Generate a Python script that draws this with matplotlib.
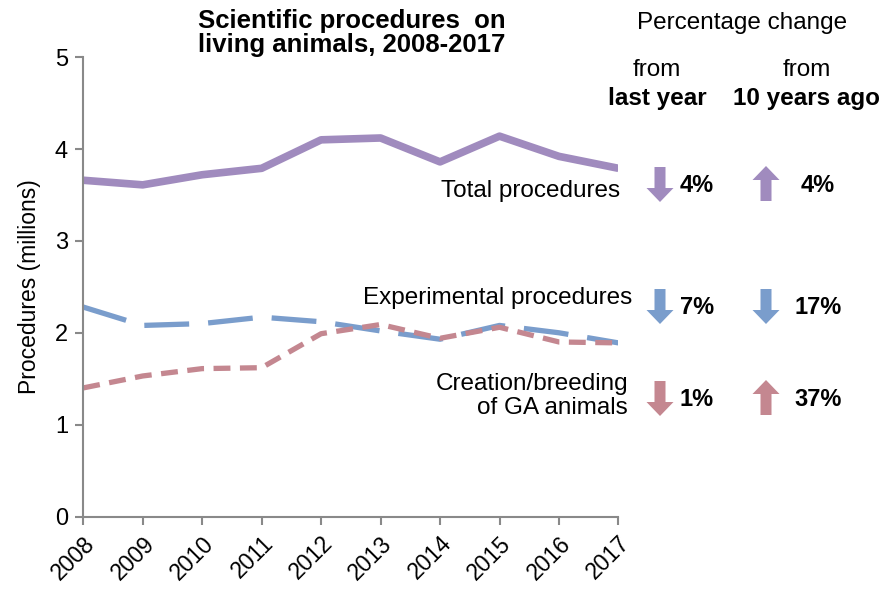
import numpy as np
import matplotlib.pyplot as plt
from matplotlib.patches import FancyArrow

plt.rcParams['font.family'] = ['Liberation Sans', 'DejaVu Sans']

years = [2008, 2009, 2010, 2011, 2012, 2013, 2014, 2015, 2016, 2017]
total = [3.66, 3.61, 3.72, 3.79, 4.10, 4.12, 3.86, 4.14, 3.92, 3.79]
experimental = [2.28, 2.08, 2.10, 2.17, 2.12, 2.02, 1.93, 2.08, 2.00, 1.89]
ga_breeding = [1.40, 1.53, 1.61, 1.62, 1.99, 2.09, 1.94, 2.06, 1.90, 1.89]

series_names = ['Total procedures', 'Experimental procedures', 'Creation/breeding\nof GA animals']
change_last_year = [-4, -7, -1]
change_10_years = [4, -17, 37]

purple = '#A08BBE'
blue = '#7A9DCC'
pink = '#C48790'
grey = '#898989'

fig = plt.figure(figsize=(8.95, 5.89), dpi=100)
ax = fig.add_axes([0.093, 0.123, 0.598, 0.780])

ax.plot(years, total, color=purple, lw=5.5, solid_capstyle='butt')
ax.plot(years, experimental, color=blue, lw=3.8, dashes=(8.5, 3.6))
ax.plot(years, ga_breeding, color=pink, lw=3.8, dashes=(3.2, 1.8))

ax.set_xlim(2008, 2017)
ax.set_ylim(0, 5)
ax.set_xticks(years)
ax.set_xticklabels([str(y) for y in years], rotation=45, ha='right',
                   rotation_mode='anchor', fontsize=16.5)
ax.set_yticks(range(6))
ax.tick_params(axis='y', labelsize=17, length=6, width=1.5, color=grey, pad=5)
ax.tick_params(axis='x', length=6, width=1.5, color=grey, pad=5)
for s in ['top', 'right']:
    ax.spines[s].set_visible(False)
for s in ['left', 'bottom']:
    ax.spines[s].set_color(grey)
    ax.spines[s].set_linewidth(1.5)
ax.set_ylabel('Procedures (millions)', fontsize=16.5, labelpad=10)

# overlay in pixel coordinates for annotations
ov = fig.add_axes([0, 0, 1, 1], facecolor='none')
ov.set_xlim(0, 895)
ov.set_ylim(589, 0)
ov.axis('off')

ov.text(352, 33, 'Scientific procedures  on\nliving animals, 2008-2017', ha='center',
        va='center', fontsize=18.5, fontweight='bold', linespacing=1.05)
ov.text(742, 23, 'Percentage change', ha='center', va='center', fontsize=17.5)
ov.text(657, 70, 'from', ha='center', va='center', fontsize=17.5)
ov.text(657, 98, 'last year', ha='center', va='center', fontsize=17.5, fontweight='bold')
ov.text(807, 70, 'from', ha='center', va='center', fontsize=17.5)
ov.text(807, 98, '10 years ago', ha='center', va='center', fontsize=17.5, fontweight='bold')

row_y = [184, 306, 398]
label_y = [191, 298, 396]
label_x = [620, 632, 628]
colors = [purple, blue, pink]

for name, ly, lx, c, ry, a, b in zip(series_names, label_y, label_x, colors, row_y,
                                     change_last_year, change_10_years):
    ov.text(lx, ly, name, ha='right', va='center', fontsize=17.5, linespacing=1.15)
    for x, v, tx in [(660, a, 697), (766, b, 818)]:
        if v < 0:
            y0, dy = ry - 17, 35
        else:
            y0, dy = ry + 17, -35
        ov.add_patch(FancyArrow(x, y0, 0, dy, width=11, head_width=27, head_length=14,
                                length_includes_head=True, color=c, lw=0))
        ov.text(tx, ry + 2, f'{abs(v)}%', ha='center', va='center', fontsize=17,
                fontweight='bold')

fig.savefig('out.png', dpi=100)
